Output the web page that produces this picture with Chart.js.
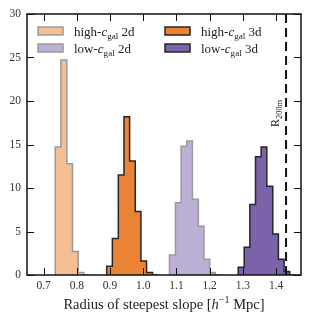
<!DOCTYPE html>
<html>
<head>
<meta charset="utf-8">
<script src="https://cdn.jsdelivr.net/npm/chart.js@4.4.0/dist/chart.umd.min.js"></script>
<style>
  html, body { margin: 0; padding: 0; background: #fff; }
  #wrap { width: 311px; height: 323px; }
</style>
</head>
<body>
<div id="wrap"><canvas id="grafica"></canvas></div>
<script>
// bin edges (h^-1 Mpc) and counts
const edgesHigh2d = [0.735, 0.752, 0.770, 0.787, 0.804, 0.821, 0.838];
const countsHigh2d = [2.2, 14.7, 24.7, 12.8, 2.7, 0.3];
const edgesHigh3d = [0.890, 0.907, 0.925, 0.942, 0.959, 0.976, 0.993, 1.010, 1.028, 1.045];
const countsHigh3d = [0.2, 1.0, 4.2, 11.5, 18.2, 13.1, 7.3, 1.6, 0.3];
const edgesLow2d = [1.079, 1.097, 1.114, 1.131, 1.148, 1.166, 1.183, 1.200, 1.217, 1.235];
const countsLow2d = [0.2, 2.3, 8.3, 14.8, 15.4, 8.7, 5.6, 1.8, 0.3];
const edgesLow3d = [1.286, 1.304, 1.321, 1.338, 1.355, 1.372, 1.390, 1.407, 1.424, 1.441, 1.458];
const countsLow3d = [0.3, 0.9, 3.2, 8.1, 13.6, 14.7, 10.2, 4.7, 1.8, 0.4];
const r200m = 1.43;

const xTicks = [0.7, 0.8, 0.9, 1.0, 1.1, 1.2, 1.3, 1.4];
const yTicks = [0, 5, 10, 15, 20, 25, 30];

const SERIF = '"Liberation Serif", "DejaVu Serif", serif';

// turn edges + counts into points for a stepped line
function histPoints(edges, counts) {
    const pts = [{ x: edges[0], y: 0 }];
    counts.forEach((c, i) => pts.push({ x: edges[i], y: c }));
    pts.push({ x: edges[edges.length - 1], y: 0 });
    return pts;
}

function histSet(edges, counts, fill, edge) {
    return {
        data: histPoints(edges, counts),
        stepped: 'after',
        fill: 'origin',
        backgroundColor: fill,
        borderColor: edge,
        borderWidth: 1.5,
        pointRadius: 0,
        order: 2
    };
}

// draw text made of pieces (normal, italic, subscript, superscript)
function fontFor(p, size) {
    const s = (p.sub || p.sup) ? size * 0.7 : size;
    return (p.it ? 'italic ' : '') + s + 'px ' + SERIF;
}
function richWidth(ctx, parts, size) {
    let w = 0;
    parts.forEach(p => {
        ctx.font = fontFor(p, size);
        w += ctx.measureText(p.t).width;
    });
    return w;
}
function drawRich(ctx, parts, x, y, size) {
    parts.forEach(p => {
        ctx.font = fontFor(p, size);
        let dy = 0;
        if (p.sub) dy = size * 0.25;
        if (p.sup) dy = -size * 0.38;
        ctx.fillText(p.t, x, y + dy);
        x += ctx.measureText(p.t).width;
    });
}

const legendItems = [
    { parts: [{ t: 'high-' }, { t: 'c', it: true }, { t: 'gal', sub: true }, { t: ' 2d' }], fill: '#f5bf95', edge: '#9a9a9a', x: 38, y: 27 },
    { parts: [{ t: 'high-' }, { t: 'c', it: true }, { t: 'gal', sub: true }, { t: ' 3d' }], fill: '#eb8336', edge: '#262626', x: 165, y: 27 },
    { parts: [{ t: 'low-' }, { t: 'c', it: true }, { t: 'gal', sub: true }, { t: ' 2d' }], fill: '#bdb0d6', edge: '#9a9a9a', x: 38, y: 44 },
    { parts: [{ t: 'low-' }, { t: 'c', it: true }, { t: 'gal', sub: true }, { t: ' 3d' }], fill: '#7c62a8', edge: '#262626', x: 165, y: 44 }
];

const decor = {
    id: 'decor',
    afterDraw(chart) {
        const ctx = chart.ctx;
        const a = chart.chartArea;
        const xs = chart.scales.x, ys = chart.scales.y;
        ctx.save();
        // inward ticks on all four sides
        ctx.strokeStyle = '#111';
        ctx.lineWidth = 1;
        ctx.beginPath();
        xTicks.forEach(v => {
            const px = Math.round(xs.getPixelForValue(v)) + 0.5;
            ctx.moveTo(px, a.bottom); ctx.lineTo(px, a.bottom - 7);
            ctx.moveTo(px, a.top); ctx.lineTo(px, a.top + 7);
        });
        yTicks.forEach(v => {
            const py = Math.round(ys.getPixelForValue(v)) + 0.5;
            ctx.moveTo(a.left, py); ctx.lineTo(a.left + 7, py);
            ctx.moveTo(a.right, py); ctx.lineTo(a.right - 7, py);
        });
        ctx.stroke();
        // frame
        ctx.lineWidth = 1.5;
        ctx.strokeRect(a.left, a.top, a.right - a.left, a.bottom - a.top);

        // legend
        ctx.textBaseline = 'alphabetic';
        legendItems.forEach(it => {
            ctx.fillStyle = it.fill;
            ctx.fillRect(it.x, it.y, 25, 8);
            ctx.strokeStyle = it.edge;
            ctx.lineWidth = 1.5;
            ctx.strokeRect(it.x, it.y, 25, 8);
            ctx.fillStyle = '#222';
            drawRich(ctx, it.parts, it.x + 36, it.y + 8.5, 13);
        });

        // R200m label, rotated
        ctx.save();
        ctx.translate(xs.getPixelForValue(r200m) - 7, 127);
        ctx.rotate(-Math.PI / 2);
        drawRich(ctx, [{ t: 'R' }, { t: '200m', sub: true }], 0, 0, 12);
        ctx.restore();

        // x axis title
        const title = [{ t: 'Radius of steepest slope [' }, { t: 'h', it: true }, { t: '\u22121', sup: true }, { t: ' Mpc]' }];
        const w = richWidth(ctx, title, 14.5);
        ctx.fillStyle = '#222';
        drawRich(ctx, title, (a.left + a.right) / 2 - w / 2, 309, 14.5);
        ctx.restore();
    }
};

new Chart(document.getElementById('grafica'), {
    type: 'line',
    data: {
        datasets: [
            histSet(edgesHigh2d, countsHigh2d, '#f5bf95', '#9a9a9a'),
            histSet(edgesHigh3d, countsHigh3d, '#eb8336', '#262626'),
            histSet(edgesLow2d, countsLow2d, '#bdb0d6', '#9a9a9a'),
            histSet(edgesLow3d, countsLow3d, '#7c62a8', '#262626'),
            {
                data: [{ x: r200m, y: 0 }, { x: r200m, y: 30 }],
                borderColor: '#111',
                borderWidth: 2,
                borderDash: [9, 5],
                pointRadius: 0,
                fill: false,
                order: 0
            }
        ]
    },
    options: {
        responsive: true,
        maintainAspectRatio: false,
        animation: false,
        layout: { padding: { top: 14, right: 10, left: 0, bottom: 0 } },
        plugins: { legend: { display: false }, tooltip: { enabled: false } },
        scales: {
            x: {
                type: 'linear',
                min: 0.65,
                max: 1.475,
                afterBuildTicks: s => { s.ticks = xTicks.map(v => ({ value: v })); },
                afterFit: s => { s.height = 48; },
                grid: { display: false, drawTicks: false },
                border: { display: false },
                ticks: {
                    padding: 4,
                    color: '#333',
                    font: { family: SERIF, size: 11.5 },
                    callback: v => v.toFixed(1)
                }
            },
            y: {
                min: 0,
                max: 30,
                afterBuildTicks: s => { s.ticks = yTicks.map(v => ({ value: v })); },
                afterFit: s => { s.width = 27; },
                grid: { display: false, drawTicks: false },
                border: { display: false },
                ticks: {
                    padding: 6,
                    color: '#333',
                    font: { family: SERIF, size: 11.5 }
                }
            }
        }
    },
    plugins: [decor]
});
</script>
</body>
</html>
